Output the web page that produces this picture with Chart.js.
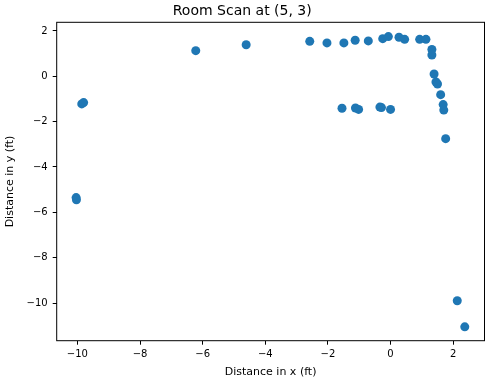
<!DOCTYPE html>
<html>
<head>
<meta charset="utf-8">
<script src="https://cdn.jsdelivr.net/npm/chart.js@4/dist/chart.umd.min.js"></script>
<style>
  html, body { margin: 0; padding: 0; background: #fff; }
  #wrap { width: 493px; height: 387px; }
</style>
</head>
<body>
<div id="wrap"><canvas id="myChart" width="493" height="387"></canvas></div>
<script>
// 스캔한 점들의 x, y 좌표 (ft)
const xValues = [-9.86, -9.80, -10.04, -10.03, -6.22, -4.61, -2.58, -2.03, -1.49, -1.13, -0.71,
    -0.25, -0.07, 0.27, 0.45, 0.93, 1.13, 1.32, 1.32, 1.39, 1.45, 1.50, 1.60, 1.68, 1.70,
    -1.55, -1.12, -1.02, -0.34, -0.29, 0.00, 1.76, 2.13, 2.37];
const yValues = [-1.22, -1.16, -5.35, -5.45, 1.13, 1.39, 1.54, 1.47, 1.47, 1.59, 1.56,
    1.66, 1.75, 1.72, 1.63, 1.63, 1.63, 1.18, 0.94, 0.10, -0.25, -0.34, -0.81, -1.25, -1.49,
    -1.41, -1.40, -1.46, -1.36, -1.38, -1.46, -2.75, -9.90, -11.05];
const xTicks = [-10, -8, -6, -4, -2, 0, 2];
const yTicks = [2, 0, -2, -4, -6, -8, -10];

const points = xValues.map((x, i) => ({ x, y: yValues[i] }));
const minus = v => String(v).replace('-', '\u2212');
const font = { family: 'DejaVu Sans', size: 10 };

// 축 테두리를 네 면 모두 그린다
const frame = {
    id: 'frame',
    afterDraw(chart) {
        const a = chart.chartArea, c = chart.ctx;
        c.save();
        c.strokeStyle = '#000';
        c.lineWidth = 1;
        c.strokeRect(a.left, a.top, a.right - a.left, a.bottom - a.top);
        c.restore();
    }
};

const ctx = document.querySelector('#myChart').getContext('2d');
const chart = new Chart(ctx, {
    type: 'scatter',
    data: {
        datasets: [{
            data: points,
            backgroundColor: '#1f77b4',
            borderWidth: 0,
            pointRadius: 4.5,
            pointHoverRadius: 4.5
        }]
    },
    options: {
        responsive: false,
        animation: false,
        layout: { padding: { left: 0, right: 8.5, top: 0, bottom: 0 } },
        scales: {
            x: {
                type: 'linear',
                min: -10.66,
                max: 3.0,
                afterFit: s => { s.height = 46.3; },
                afterBuildTicks: s => { s.ticks = xTicks.map(v => ({ value: v })); },
                border: { display: false },
                grid: { drawOnChartArea: false, tickLength: 4, tickColor: '#000' },
                ticks: { color: '#000', font, padding: 4, maxRotation: 0, callback: v => minus(v) },
                title: { display: true, text: 'Distance in x (ft)', color: '#000',
                    font: { family: 'DejaVu Sans', size: 11 }, padding: { top: 8.7, bottom: 8.7 } }
            },
            y: {
                type: 'linear',
                min: -11.66,
                max: 2.38,
                afterFit: s => { s.width = 56.7; },
                afterBuildTicks: s => { s.ticks = yTicks.map(v => ({ value: v })); },
                border: { display: false },
                grid: { drawOnChartArea: false, tickLength: 4, tickColor: '#000' },
                ticks: { color: '#000', font, padding: 5, callback: v => minus(v) },
                title: { display: true, text: 'Distance in y (ft)', color: '#000',
                    font: { family: 'DejaVu Sans', size: 11 }, padding: { top: 4, bottom: 4 } }
            }
        },
        plugins: {
            legend: { display: false },
            tooltip: { enabled: false },
            title: {
                display: true,
                text: 'Room Scan at (5, 3)',
                color: '#000',
                font: { family: 'DejaVu Sans', size: 14, weight: 'normal' },
                padding: { top: 3, bottom: 2.5 }
            }
        }
    },
    plugins: [frame]
});
</script>
</body>
</html>
